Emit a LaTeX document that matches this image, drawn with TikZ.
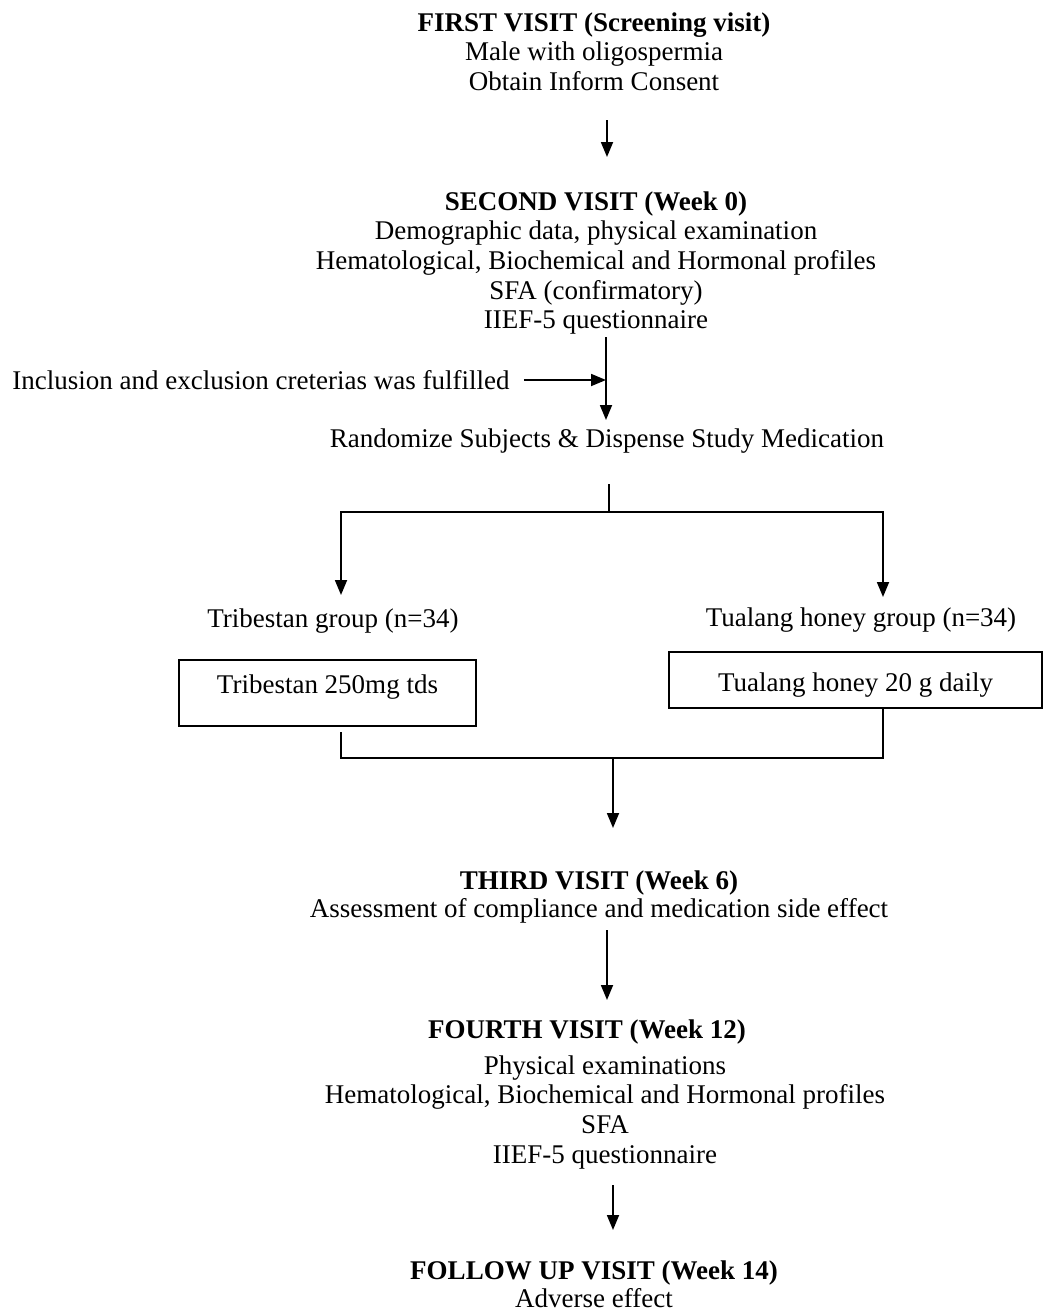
\documentclass[tikz,border=0pt]{standalone}
\usepackage{fontspec}
\setmainfont{Liberation Serif}
\usetikzlibrary{arrows.meta}
\begin{document}
\begin{tikzpicture}[x=0.5pt,y=-0.5pt,
    every node/.style={font=\fontsize{13.5}{14.85}\selectfont, inner sep=0pt},
    txt/.style={align=center, anchor=north},
    arr/.style={line width=0.9pt, -{Triangle[length=7.5pt,width=6pt]}},
    ln/.style={line width=0.9pt},
    box/.style={draw, line width=0.8pt, inner xsep=0pt, inner ysep=7pt}]
    \useasboundingbox (0,0) rectangle (1043,1312);
    % visits
    \node[txt] (first) at (594,12) {\textbf{FIRST VISIT (Screening visit)}\\Male with oligospermia\\Obtain Inform Consent};
    \node[txt] (second) at (596,191) {\textbf{SECOND VISIT (Week 0)}\\Demographic data, physical examination\\Hematological, Biochemical and Hormonal profiles\\SFA (confirmatory)\\IIEF-5 questionnaire};
    \node[anchor=base west] (incl) at (12,389) {Inclusion and exclusion creterias was fulfilled};
    \node[anchor=base] (rand) at (607,447) {Randomize Subjects \& Dispense Study Medication};
    % groups
    \node[anchor=base] (tribgrp) at (333,627) {Tribestan group (n=34)};
    \node[anchor=base] (tualgrp) at (861,626) {Tualang honey group (n=34)};
    \node[box, minimum width=148.5pt, text height=9.5pt, text depth=9.5pt] (tribbox) at (327.5,693) {Tribestan 250mg tds};
    \node[box, minimum width=186.5pt, text height=13pt, text depth=1pt, anchor=north] (tualbox) at (855.5,651) {Tualang honey 20 g daily};
    \node[txt] (third) at (599,870) {\textbf{THIRD VISIT (Week 6)}\\[-0.85pt]Assessment of compliance and medication side effect};
    \node[txt] (fourth) at (587,1019) {\textbf{FOURTH VISIT (Week 12)}};
    \node[txt] (fourthb) at (605,1055) {Physical examinations\\Hematological, Biochemical and Hormonal profiles\\SFA\\IIEF-5 questionnaire};
    \node[txt] (follow) at (594,1260) {\textbf{FOLLOW UP VISIT (Week 14)}\\[-0.85pt]Adverse effect};
    % connector ends
    \coordinate (a1) at (607,120);
    \coordinate (a2) at (607,157);
    \coordinate (b1) at (606,337);
    \coordinate (b2) at (606,420);
    \coordinate (ie) at (606,380);
    \coordinate (s1) at (609,484);
    \coordinate (s2) at (609,512);
    \coordinate (la) at (341,595);
    \coordinate (ra) at (883,597);
    \coordinate (lb) at (341,732);
    \coordinate (jl) at (341,758);
    \coordinate (rb) at (883,707);
    \coordinate (c1) at (613,758);
    \coordinate (c2) at (613,828);
    \coordinate (d1) at (607,930);
    \coordinate (d2) at (607,1000);
    \coordinate (e1) at (613,1185);
    \coordinate (e2) at (613,1230);
    % connectors
    \draw[arr] (a1) -- (a2);
    \draw[arr] (b1) -- (b2);
    \draw[arr] ([xshift=7pt]incl.east |- ie) -- (ie);
    \draw[ln] (s1) -- (s2);
    \draw[arr] (s2) -| (la);
    \draw[arr] (s2) -| (ra);
    \draw[ln] (lb) -- (jl) -| (rb);
    \draw[arr] (c1) -- (c2);
    \draw[arr] (d1) -- (d2);
    \draw[arr] (e1) -- (e2);
\end{tikzpicture}
\end{document}
